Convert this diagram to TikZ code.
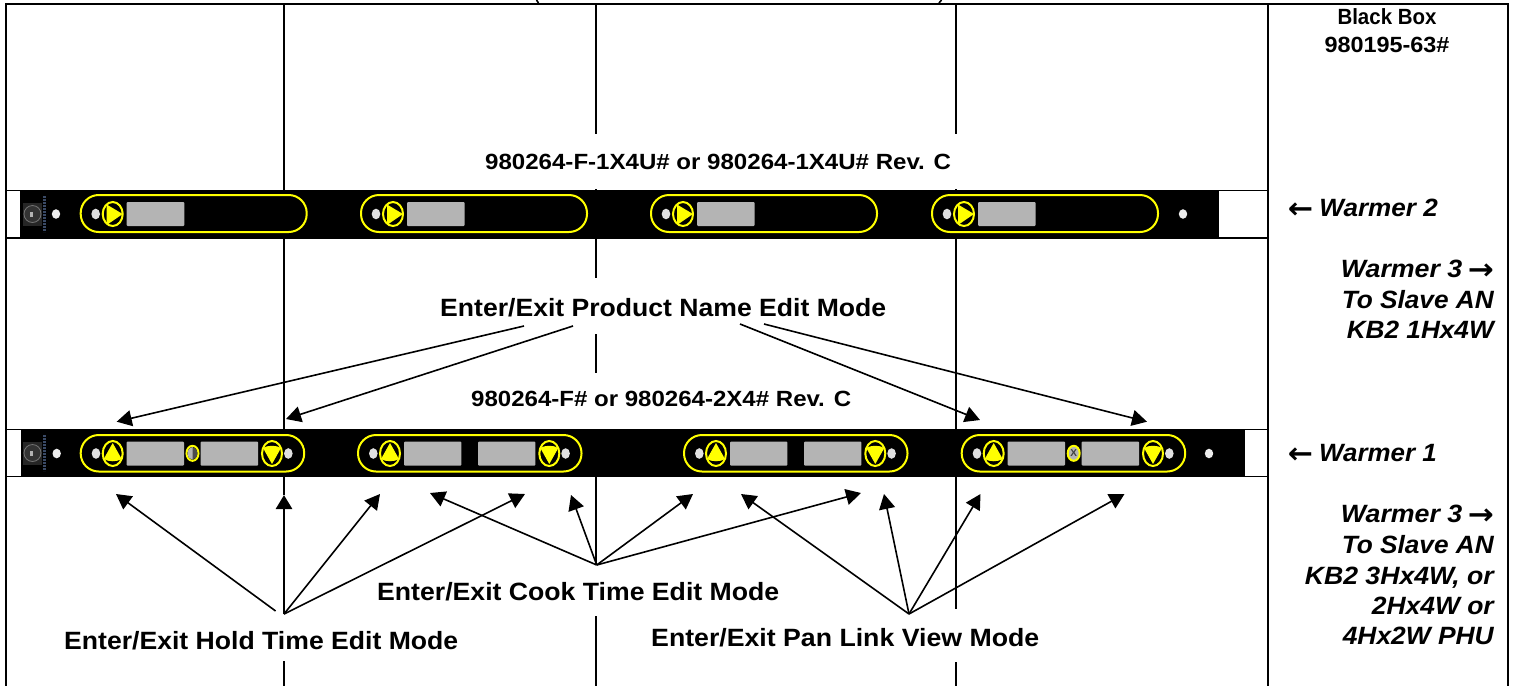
\documentclass[tikz,border=0pt]{standalone}
\usepackage{fontspec}
\usepackage{graphicx}
\setmainfont{Liberation Sans}
\newfontfamily\arrowfont{DejaVu Sans}
\usetikzlibrary{arrows.meta}
\definecolor{panelgray}{HTML}{B4B4B4}
\definecolor{dotgray}{HTML}{E0E0E0}
\definecolor{panelyellow}{HTML}{FFFF00}
\definecolor{stripblue}{HTML}{3A4A66}
\tikzset{
  grid/.style={line width=1.6pt,black},
  callout/.style={line width=1.6pt,black,-{Triangle[length=15pt,width=16pt]}},
  calloutthick/.style={callout,line width=2.6pt,-{Triangle[length=14pt,width=16pt]}},
  lbl/.style={inner sep=0pt,anchor=base west,font=\bfseries\fontsize{25}{25}\selectfont},
  lblr/.style={inner sep=0pt,anchor=base east,font=\bfseries\itshape\fontsize{25}{25}\selectfont},
  lblc/.style={inner sep=0pt,anchor=base,font=\bfseries\fontsize{22}{22}\selectfont},
  pill/.style={draw=panelyellow,line width=2pt,rounded corners=18pt},
  btn/.style={draw=panelyellow,line width=2pt,fill=black},
  tri/.style={fill=panelyellow},
  disp/.style={fill=panelgray,rounded corners=1pt},
  dot/.style={fill=dotgray},
  wdot/.style={fill=white!93!black}
}
\newcommand{\wtext}[2]{\resizebox{#1pt}{\height}{#2}}
\newcommand{\larrow}{\raisebox{-2pt}{\arrowfont\bfseries\upshape\fontsize{29}{29}\selectfont ←}}
\newcommand{\rarrow}{\raisebox{-2pt}{\arrowfont\bfseries\upshape\fontsize{29}{29}\selectfont →}}
\newcommand{\singlepanel}[1]{%
  \begin{scope}[shift={(#1,0)}]
    \draw[pill] (0,195) rectangle (226,232);
    \fill[dot] (15,214) ellipse (4.3 and 5.3);
    \draw[btn] (32,214) ellipse (10 and 12);
    \fill[tri] (26,204.5) -- (42,214) -- (26,225) -- cycle;
    \fill[disp] (46,202) rectangle (103.6,226);
  \end{scope}}
\newcommand{\doublepanel}[1]{%
  \begin{scope}[shift={(#1,0)}]
    \draw[pill] (0,435) rectangle (223.5,471.5);
    \fill[dot] (15.3,453.5) ellipse (4.3 and 5.3);
    \draw[btn] (32,453.5) ellipse (10 and 12.5);
    \fill[tri] (32,443) -- (41,459) .. controls (36,462) and (28,462) .. (23,459) -- cycle;
    \fill[disp] (46,441.5) rectangle (103.3,465.7);
    \fill[disp] (120,441.5) rectangle (177.4,465.7);
    \draw[btn] (191.3,453.5) ellipse (10 and 12.5);
    \fill[tri] (191.3,464) -- (182.3,448) .. controls (187,445) and (195.5,445) .. (200.3,448) -- cycle;
    \fill[dot] (207.6,453.5) ellipse (4.3 and 5.3);
  \end{scope}}
\newcommand{\logomark}[1]{%
  \fill[black!85] (23,#1-11.5) rectangle (42,#1+11.5);
  \draw[black!55,line width=.8pt,fill=black!80] (32.5,#1) circle (8.5);
  \fill[white!70!black] (30,#1-2) rectangle (33,#1+2.5);
  \draw[stripblue,line width=3pt,dash pattern=on 2pt off 1pt] (44.5,#1-18) -- (44.5,#1+18);}
\begin{document}
\begin{tikzpicture}[x=1pt,y=-1pt]
\useasboundingbox (0,0) rectangle (1515,686);
\fill[white] (0,0) rectangle (1515,686);

% clipped tails of the brackets of the cut-off title
\draw[line width=1.6pt] (536.5,0) .. controls (537,1) .. (538.5,3);
\draw[line width=1.6pt] (941.5,0) .. controls (941,1) .. (939,3);

% table frame
\draw[line width=2.4pt] (5,4) -- (1509,4);
\draw[grid] (6,4) -- (6,686);
\draw[grid] (1268,4) -- (1268,686);
\draw[grid] (1508,4) -- (1508,686);
\draw[grid] (6,190.5) -- (1268,190.5);
\draw[grid] (6,238) -- (1268,238);
\draw[grid] (6,429.5) -- (1268,429.5);
\draw[grid] (6,476.5) -- (1268,476.5);
% x=284
\draw[grid] (284,4) -- (284,429) (284,477) -- (284,495) (284,661) -- (284,686);
% x=596
\draw[grid] (596,4) -- (596,133.5) (596,189) -- (596,192) (596,239) -- (596,278)
  (596,334) -- (596,373) (596,477) -- (596,565) (596,616) -- (596,686);
% x=956
\draw[grid] (956,4) -- (956,133.5) (956,189) -- (956,192) (956,239) -- (956,429)
  (956,477) -- (956,609) (956,662) -- (956,686);

% warmer bars
\fill[black] (20,190) rectangle (1219,238.7);
\fill[black] (21,429) rectangle (1245,476.8);
\logomark{214}
\logomark{453}
\fill[wdot] (56,214) ellipse (4.2 and 4.8);
\fill[wdot] (1183,214) ellipse (4.2 and 4.8);
\fill[wdot] (56.7,453.5) ellipse (4.2 and 4.8);
\fill[wdot] (1209,453.5) ellipse (4.2 and 4.8);
\singlepanel{80.7}
\singlepanel{361}
\singlepanel{651}
\singlepanel{932}
\doublepanel{80.7}
\doublepanel{358}
\doublepanel{684}
\doublepanel{961.7}
% pan-link indicators
\draw[btn] (192.5,453.3) ellipse (6 and 7.5);
\fill[black!70] (192.5,453.3) ellipse (4.8 and 6.3);
\fill[panelgray] (192.5,459.6) arc (90:270:4.8 and 6.3) -- cycle;
\draw[draw=panelyellow,line width=2pt,fill=panelgray] (1073.7,453.3) ellipse (6 and 7.5);
\node[inner sep=0pt,text=black!75,font=\bfseries\fontsize{10}{10}\selectfont] (linkx) at (1073.7,453.5) {X};

% labels
\node[lblc] (bb1) at (1387,24.5) {\wtext{99}{Black Box}};
\node[lblc] (bb2) at (1387,52) {\wtext{125}{980195-63\#}};
\node[lbl] (partA) at (485,169) {\wtext{466}{\fontsize{22}{22}\selectfont 980264-F-1X4U\# or 980264-1X4U\# Rev. C}};
\node[lbl] (prodname) at (440,316) {\wtext{446}{Enter/Exit Product Name Edit Mode}};
\node[lbl] (partB) at (471,406) {\wtext{380}{\fontsize{22}{22}\selectfont 980264-F\# or 980264-2X4\# Rev. C}};
\node[lbl] (cook) at (377,600) {\wtext{402}{Enter/Exit Cook Time Edit Mode}};
\node[lbl] (hold) at (64,649) {\wtext{394}{Enter/Exit Hold Time Edit Mode}};
\node[lbl] (pan) at (651,646) {\wtext{388}{Enter/Exit Pan Link View Mode}};

\node[lblr] (w2) at (1438,216) {\wtext{150}{\larrow\hspace{6pt}Warmer 2}};
\node[lblr] (w3a) at (1494,277) {\wtext{153}{Warmer 3\hspace{5pt}\rarrow}};
\node[lblr] (w3b) at (1494,308.5) {\wtext{152}{To Slave AN}};
\node[lblr] (w3c) at (1494,338.5) {\wtext{147}{KB2 1Hx4W}};
\node[lblr] (w1) at (1437,461) {\wtext{149}{\larrow\hspace{6pt}Warmer 1}};
\node[lblr] (w3d) at (1494,522) {\wtext{153}{Warmer 3\hspace{5pt}\rarrow}};
\node[lblr] (w3e) at (1494,553.5) {\wtext{152}{To Slave AN}};
\node[lblr] (w3f) at (1494,584.5) {\wtext{189}{KB2 3Hx4W, or}};
\node[lblr] (w3g) at (1494,614.5) {\wtext{122}{2Hx4W or}};
\node[lblr] (w3h) at (1494,644.5) {\wtext{151}{4Hx2W PHU}};

% connector end points
\coordinate (pn1s) at (524,326);
\coordinate (pn2s) at (573,326);
\coordinate (pn3s) at (740,324);
\coordinate (pn4s) at (764,324);
\coordinate (pn1) at (116.7,421.7);
\coordinate (pn2) at (286,419);
\coordinate (pn3) at (980,420);
\coordinate (pn4) at (1147,421.7);
\coordinate (hs0) at (275.6,611);
\coordinate (hs) at (284,614);
\coordinate (h1) at (116,494);
\coordinate (h2) at (284,495);
\coordinate (h3) at (380,494);
\coordinate (h4) at (525,494);
\coordinate (cs) at (596.7,565);
\coordinate (c1) at (430,493);
\coordinate (c2) at (571,495);
\coordinate (c3) at (693,494);
\coordinate (c4) at (861,493);
\coordinate (ps) at (909,614);
\coordinate (p1) at (741,494);
\coordinate (p2) at (884,494);
\coordinate (p3) at (980.5,494);
\coordinate (p4) at (1124.5,494);

\draw[callout] (pn1s) -- (pn1);
\draw[callout] (pn2s) -- (pn2);
\draw[callout] (pn3s) -- (pn3);
\draw[callout] (pn4s) -- (pn4);
\draw[callout] (hs0) -- (h1);
\draw[calloutthick] (hs) -- (h2);
\draw[callout] (hs) -- (h3);
\draw[callout] (hs) -- (h4);
\draw[callout] (cs) -- (c1);
\draw[callout] (cs) -- (c2);
\draw[callout] (cs) -- (c3);
\draw[callout] (cs) -- (c4);
\draw[callout] (ps) -- (p1);
\draw[callout] (ps) -- (p2);
\draw[callout] (ps) -- (p3);
\draw[callout] (ps) -- (p4);
\end{tikzpicture}
\end{document}
